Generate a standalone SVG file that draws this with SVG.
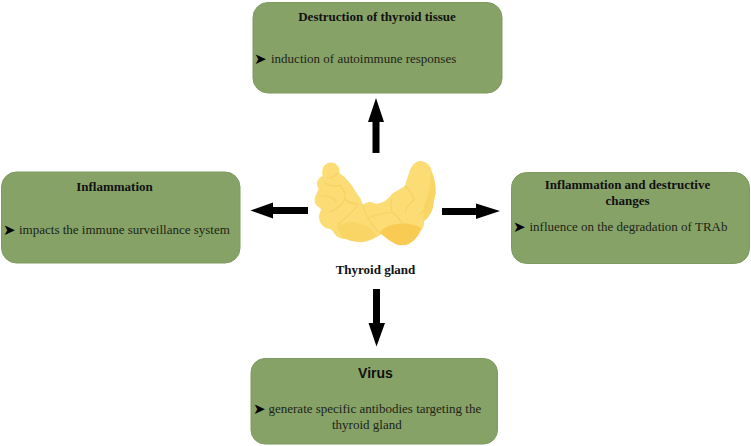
<svg xmlns="http://www.w3.org/2000/svg" width="751" height="446" viewBox="0 0 751 446">
<style>
  .box { fill: #87a267; stroke: #7e9a60; stroke-width: 1; }
  .title { font: bold 13px "Liberation Serif", serif; fill: #111; text-anchor: middle; }
  .body { font: 13px "Liberation Serif", serif; fill: #1c2418; }
  .mark { font: 15px "DejaVu Sans", sans-serif; fill: #000; }
  .arrow { fill: #000; }
  .lobe { fill: #fbdc75; }
  .shade { fill: #f9d566; }
  .deep { fill: #f9cb52; }
  .crease { fill: none; stroke: #f7d263; stroke-width: 1.2; stroke-linecap: round; }
</style>
<rect width="751" height="446" fill="#fff"/>

<g id="node-destruction">
  <rect class="box" x="253" y="2.500" width="249" height="90.500" rx="15"/>
  <text class="title" x="377" y="21">Destruction of thyroid tissue</text>
  <text class="mark" x="254" y="64">➤</text>
  <text class="body" x="271" y="63">induction of autoimmune responses</text>
</g>

<g id="node-inflammation">
  <rect class="box" x="1.500" y="172" width="238.500" height="91" rx="15"/>
  <text class="title" x="114.500" y="191">Inflammation</text>
  <text class="mark" x="3" y="235">➤</text>
  <text class="body" x="19" y="234">impacts the immune surveillance system</text>
</g>

<g id="node-inflammation-destructive">
  <rect class="box" x="511.500" y="172.500" width="238" height="91" rx="15"/>
  <text class="title" x="627.500" y="189">Inflammation and destructive</text>
  <text class="title" x="627.500" y="205">changes</text>
  <text class="mark" x="513" y="232">➤</text>
  <text class="body" x="529.500" y="231">influence on the degradation of TRAb</text>
</g>

<g id="node-virus">
  <rect class="box" x="251" y="358.500" width="246.500" height="85.500" rx="14"/>
  <text x="375.500" y="378" text-anchor="middle" style="font: bold 14px 'Liberation Sans', sans-serif; fill: #111">Virus</text>
  <text class="mark" x="253" y="414">➤</text>
  <text class="body" x="268.500" y="413">generate specific antibodies targeting the</text>
  <text class="body" x="332" y="429">thyroid gland</text>
</g>

<g id="node-thyroid">
  <!-- gland body built from overlapping lobules -->
  <g class="lobe">
    <path d="M324 166A8.500 8.500 0 0 1 338.500 172Q350 181 356 192Q360 198 363 205A8 6 0 0 1 376 204Q386 203 393 193Q400 189 405 186Q408 175 411 168Q416 160 421 161Q428 162 432 172Q436 182 435.500 193Q434 200 433 207Q430 217 423 222Q421 231 415 238Q408 246 398 245Q388 240 381 234Q374 240 364 242Q352 243 342 236Q334 234 328 226Q326 216 320 208Q313 200 318 190Q322 186 325 183Q320 174 324 166Z"/>
    <circle cx="331" cy="171" r="8.500"/>
    <circle cx="326" cy="184" r="9"/>
    <circle cx="323" cy="200" r="8.500"/>
    <circle cx="331" cy="217" r="12"/>
    <circle cx="341" cy="190" r="9"/>
    <circle cx="349" cy="205" r="13"/>
    <circle cx="345" cy="226" r="13"/>
    <circle cx="358" cy="229" r="12.500"/>
    <circle cx="368" cy="214" r="10.500"/>
    <circle cx="385" cy="213" r="11"/>
    <circle cx="398" cy="204" r="11"/>
    <circle cx="403" cy="230" r="15"/>
    <circle cx="415" cy="204" r="18"/>
    <circle cx="421" cy="185" r="14"/>
    <circle cx="421" cy="172" r="10.500"/>
    <circle cx="413" cy="223" r="11"/>
  </g>
  <!-- shaded right edge and lower lobes -->
  <path class="shade" d="M431 170Q436 182 435.500 193Q434 200 433 207Q430 217 423 222L424 205Q431 190 431 170Z"/>
  <path class="deep" d="M380 232Q388 224 398 224Q410 222 421 228Q420 234 416 238Q408 247 398 245Q388 241 380 232Z"/>
  <path class="shade" d="M337 226Q346 222 354 222Q366 224 374 232L376 236Q370 240 364 241Q352 243 342 237Q339 232 337 226Z"/>
  <!-- lobule creases -->
  <path class="crease" d="M338 173Q334 178 327 178M325 183Q332 188 340 185M340 185Q346 192 345 199M321 196Q330 195 336 201M345 199Q350 204 358 204M345 199Q340 208 330 212M358 204Q352 214 338 224M363 205Q364 212 368 218M368 218Q378 214 392 212M392 212Q390 204 392 198M392 212Q398 216 402 224M405 186Q412 192 414 200M414 200Q408 204 405 212M420 214Q426 210 428 202M368 218Q372 226 381 234"/>
  <text class="title" x="375.500" y="274">Thyroid gland</text>
</g>

<g id="connectors">
  <path class="arrow" d="M376 98L384 122H379.500V153H372.500V122H368Z"/>
  <path class="arrow" d="M250.500 210.500L273 202.500V207H308V214H273V218.500Z"/>
  <path class="arrow" d="M500 211L476 203.500V208H442V215H476V219Z"/>
  <path class="arrow" d="M376.500 346.500L368.500 323H373V289H380V323H385Z"/>
</g>
</svg>
